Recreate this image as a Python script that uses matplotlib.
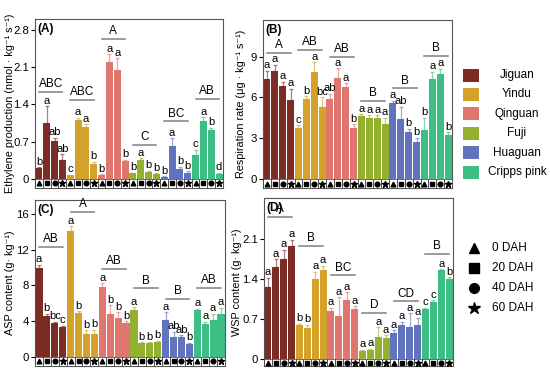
import matplotlib.pyplot as plt
from matplotlib.patches import Rectangle

# cultivars and storage times
cultivars = ['Jiguan', 'Yindu', 'Qinguan', 'Fuji', 'Huaguan', 'Cripps pink']
colors = ['#7B2C24', '#D4A12B', '#E0766E', '#93B02E', '#6273BE', '#3DBE84']
dah = ['0 DAH', '20 DAH', '40 DAH', '60 DAH']
dah_markers = ['^', 's', 'o', '*']

# (A) ethylene production
eth_mean = [0.20, 1.05, 0.71, 0.36, 0.07, 1.10, 0.98, 0.28, 0.08, 2.19, 2.04, 0.33,
            0.11, 0.36, 0.13, 0.10, 0.04, 0.62, 0.18, 0.12, 0.45, 1.08, 0.92, 0.10]
eth_err = [0.02, 0.31, 0.06, 0.10, 0.01, 0.05, 0.05, 0.04, 0.01, 0.15, 0.22, 0.03,
           0.01, 0.03, 0.02, 0.01, 0.01, 0.14, 0.05, 0.02, 0.10, 0.08, 0.04, 0.02]
eth_letters = ['b', 'a', 'ab', 'ab', 'c', 'a', 'a', 'b', 'b', 'a', 'a', 'b',
               'b', 'a', 'b', 'b', 'b', 'a', 'b', 'b', 'c', 'a', 'b', 'd']
eth_groups = ['ABC', 'ABC', 'A', 'C', 'BC', 'AB']
eth_group_y = [1.63, 1.48, 2.63, 0.64, 1.08, 1.50]

# (B) respiration rate
resp_mean = [7.35, 7.96, 6.84, 5.80, 3.77, 5.88, 7.89, 5.32, 5.86, 7.40, 6.74, 3.77,
             4.63, 4.50, 4.50, 4.04, 5.56, 4.43, 3.46, 2.72, 3.60, 7.33, 7.70, 3.24]
resp_err = [0.60, 0.45, 0.30, 0.85, 0.20, 0.20, 0.70, 0.70, 0.40, 0.75, 0.30, 0.25,
            0.12, 0.20, 0.20, 0.45, 0.20, 0.90, 0.25, 0.30, 0.90, 0.55, 0.40, 0.20]
resp_letters = ['a', 'a', 'a', 'a', 'c', 'b', 'a', 'bc', 'ab', 'a', 'a', 'b',
                'a', 'a', 'a', 'a', 'a', 'ab', 'b', 'b', 'b', 'a', 'a', 'b']
resp_groups = ['A', 'AB', 'AB', 'B', 'B', 'B']
resp_group_y = [9.30, 9.48, 9.00, 5.73, 6.67, 9.04]

# (C) ASP content
asp_mean = [9.93, 4.60, 3.80, 3.30, 14.15, 4.95, 2.50, 2.50, 7.87, 4.75, 4.35, 3.75,
            5.23, 1.50, 1.50, 1.68, 4.10, 2.25, 2.25, 1.42, 5.24, 3.67, 4.12, 4.80]
asp_err = [0.40, 0.20, 0.10, 0.15, 0.50, 0.15, 0.45, 0.50, 0.35, 1.00, 0.65, 0.25,
           0.30, 0.10, 0.10, 0.10, 0.90, 0.55, 0.15, 0.15, 0.15, 0.25, 0.70, 0.70]
asp_letters = ['a', 'b', 'bc', 'c', 'a', 'b', 'b', 'b', 'a', 'b', 'b', 'b',
               'a', 'b', 'b', 'b', 'a', 'ab', 'ab', 'b', 'a', 'a', 'a', 'a']
asp_groups = ['AB', 'A', 'AB', 'B', 'B', 'AB']
asp_group_y = [12.36, 16.30, 9.85, 7.66, 6.48, 7.70]

# (D) WSP content
wsp_mean = [1.25, 1.60, 1.74, 1.98, 0.59, 0.55, 1.40, 1.55, 0.84, 0.75, 1.03, 0.88,
            0.145, 0.157, 0.39, 0.36, 0.45, 0.59, 0.56, 0.59, 0.88, 1.00, 1.55, 1.39]
wsp_err = [0.17, 0.14, 0.17, 0.10, 0.03, 0.05, 0.12, 0.08, 0.06, 0.33, 0.14, 0.04,
           0.02, 0.02, 0.17, 0.06, 0.05, 0.06, 0.24, 0.13, 0.02, 0.03, 0.02, 0.04]
wsp_letters = ['a', 'a', 'a', 'a', 'b', 'b', 'a', 'a', 'a', 'a', 'a', 'a',
               'a', 'a', 'a', 'a', 'a', 'a', 'a', 'a', 'c', 'c', 'a', 'b']
wsp_groups = ['A', 'B', 'BC', 'D', 'CD', 'B']
wsp_group_y = [2.48, 1.98, 1.46, 0.81, 1.01, 1.84]

plt.rcParams['font.family'] = ['Liberation Sans', 'DejaVu Sans']

fig = plt.figure(figsize=(5.5, 3.7), dpi=100)


def draw_panel(rect, mean, err, letters, groups, group_y, ylim, yticks, ylabel, tag, label_x):
    ax = fig.add_axes(rect)
    n = len(mean)
    x = list(range(n))
    bar_colors = [colors[i // 4] for i in x]
    span = ylim[1] - ylim[0]
    ax.bar(x, mean, width=0.9, color=bar_colors, zorder=2)
    for i in x:
        ax.errorbar(i, mean[i], yerr=[[0], [err[i]]], color=bar_colors[i], alpha=0.6,
                    elinewidth=0.9, capsize=1.5, capthick=0.9, zorder=1)
        ax.text(i, mean[i] + err[i] + span * 0.003, letters[i], ha='center', va='bottom',
                fontsize=8)
    # group lines and labels
    for g in range(6):
        x0, x1 = 4 * g, 4 * g + 3
        ax.plot([x0, x1], [group_y[g], group_y[g]], color='#808080', lw=1.1)
        ax.text((x0 + x1) / 2, group_y[g] + span * 0.01, groups[g], ha='center',
                va='bottom', fontsize=8.5)
    # marker strip below the bars
    strip = -ylim[0] / span
    tr = ax.get_xaxis_transform()
    for i in x:
        ax.add_patch(Rectangle((i - 0.5, 0), 1, strip, transform=tr, facecolor='white',
                               edgecolor='black', lw=0.4, zorder=3))
        ms = 4.8 if dah_markers[i % 4] == '*' else 3.4
        ax.plot(i, strip / 2, marker=dah_markers[i % 4], color='black', ms=ms,
                transform=tr, zorder=4, clip_on=False)
    ax.set_xlim(-0.5, n - 0.5)
    ax.set_ylim(*ylim)
    ax.set_xticks([])
    ax.set_yticks(yticks)
    ax.set_yticklabels([f'{v:g}' for v in yticks])
    ax.tick_params(axis='y', labelsize=8.2, length=3, width=0.8, pad=1.2)
    ax.set_ylabel(ylabel, fontsize=7.8)
    ax.yaxis.set_label_coords(label_x, 0.5)
    for s in ax.spines.values():
        s.set_linewidth(0.8)
        s.set_color('#555555')
    ax.text(0.015, 0.975, tag, transform=ax.transAxes, ha='left', va='top',
            fontsize=8.5, fontweight='bold')
    return ax


draw_panel([35 / 550, 182 / 370, 188 / 550, 169 / 370], eth_mean, eth_err, eth_letters,
           eth_groups, eth_group_y, (-0.17, 3.0), [0, 0.7, 1.4, 2.1, 2.8],
           'Ethylene production (nmol · kg⁻¹ s⁻¹)', '(A)', -0.105)
draw_panel([263 / 550, 182 / 370, 189 / 550, 168 / 370], resp_mean, resp_err, resp_letters,
           resp_groups, resp_group_y, (-0.66, 11.7), [0, 3, 6, 9],
           'Respiration rate (μg · kg⁻¹ s⁻¹)', '(B)', -0.09)
draw_panel([35 / 550, 4 / 370, 190 / 550, 166 / 370], asp_mean, asp_err, asp_letters,
           asp_groups, asp_group_y, (-1.05, 17.6), [0, 4, 8, 12, 16],
           'ASP content (g· kg⁻¹)', '(C)', -0.105)
draw_panel([264 / 550, 4 / 370, 189 / 550, 168 / 370], wsp_mean, wsp_err, wsp_letters,
           wsp_groups, wsp_group_y, (-0.12, 2.81), [0, 0.7, 1.4, 2.1],
           'WSP content (g· kg⁻¹)', '(D)', -0.115)

# legend for cultivars
for k, name in enumerate(cultivars):
    yc = 1 - (75 + 19.4 * k) / 370
    fig.patches.append(Rectangle((463 / 550, yc - 6.5 / 370), 16 / 550, 13 / 370,
                                 transform=fig.transFigure, facecolor=colors[k],
                                 edgecolor='none'))
    fig.text(517 / 550, yc, name, ha='center', va='center', fontsize=8.5)

# legend for storage time
for k, lab in enumerate(dah):
    yc = 1 - (248 + 20 * k) / 370
    ms = 9 if dah_markers[k] == '*' else 7
    fig.add_artist(plt.Line2D([474 / 550], [yc], marker=dah_markers[k], color='black',
                              ms=ms, transform=fig.transFigure))
    fig.text(492 / 550, yc, lab, ha='left', va='center', fontsize=8.5)

fig.savefig('out.png', dpi=100)
